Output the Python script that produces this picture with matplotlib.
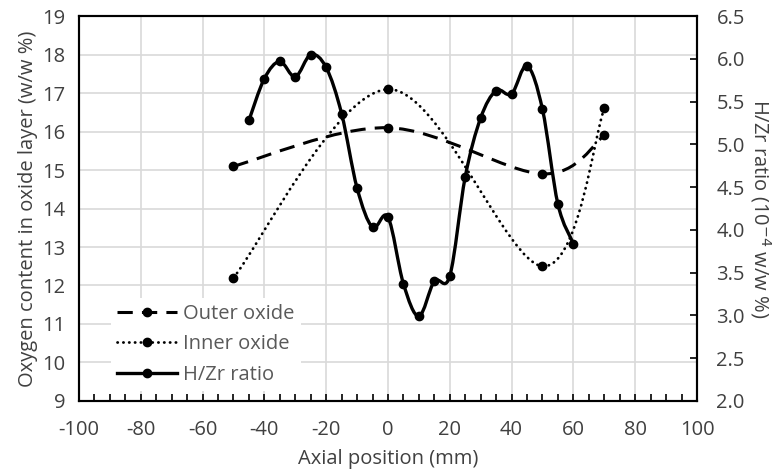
import numpy as np
import matplotlib.pyplot as plt
from matplotlib.path import Path
from matplotlib.patches import PathPatch
from matplotlib.ticker import MultipleLocator
from matplotlib.lines import Line2D

plt.rcParams["font.family"] = ["Open Sans", "DejaVu Sans"]
plt.rcParams["axes.unicode_minus"] = False

# --- data ---
oxide_pos = [-50, 0, 50, 70]
outer_oxide = [15.1, 16.1, 14.9, 15.9]
inner_oxide = [12.2, 17.1, 12.5, 16.6]

hzr_pos = [-45, -40, -35, -30, -25, -20, -15, -10, -5, 0, 5,
           10, 15, 20, 25, 30, 35, 40, 45, 50, 55, 60]
hzr_ratio = [5.28, 5.77, 5.97, 5.79, 6.05, 5.90, 5.36, 4.49, 4.03, 4.15, 3.37,
             2.99, 3.40, 3.46, 4.62, 5.31, 5.63, 5.59, 5.92, 5.41, 4.30, 3.84]

TXT = "#404040"
FS = 14.5


def smooth_path(x, y):
    # Excel-style smoothed line as cubic Bezier segments
    pts = np.column_stack([x, y]).astype(float)
    n = len(pts)
    verts = [pts[0]]
    codes = [Path.MOVETO]
    for i in range(n - 1):
        p0 = pts[i - 1] if i > 0 else pts[i]
        p1 = pts[i]
        p2 = pts[i + 1]
        p3 = pts[i + 2] if i + 2 < n else pts[i + 1]
        c1 = p1 + (p2 - p0) / 6.0
        c2 = p2 - (p3 - p1) / 6.0
        verts += [c1, c2, p2]
        codes += [Path.CURVE4] * 3
    return Path(verts, codes)


fig = plt.figure(figsize=(7.74, 4.75), dpi=100)
ax = fig.add_axes([0.102, 0.156, 0.7985, 0.81])
ax2 = ax.twinx()

ax.add_patch(PathPatch(smooth_path(oxide_pos, outer_oxide), fill=False, ec="black",
                       lw=2.2, ls=(0, (5, 3)), capstyle="butt"))
ax.plot(oxide_pos, outer_oxide, ls="none", marker="o", ms=6, color="black")

ax.add_patch(PathPatch(smooth_path(oxide_pos, inner_oxide), fill=False, ec="black",
                       lw=2.0, ls=(0, (0.1, 2)), capstyle="round"))
ax.plot(oxide_pos, inner_oxide, ls="none", marker="o", ms=6, color="black")

ax2.add_patch(PathPatch(smooth_path(hzr_pos, hzr_ratio), fill=False, ec="black",
                        lw=2.4, capstyle="round", joinstyle="round"))
ax2.plot(hzr_pos, hzr_ratio, ls="none", marker="o", ms=6, color="black")

ax.set_xlim(-100, 100)
ax.set_ylim(9, 19)
ax2.set_ylim(2.0, 6.5)
ax.xaxis.set_major_locator(MultipleLocator(20))
ax.xaxis.set_minor_locator(MultipleLocator(5))
ax.yaxis.set_major_locator(MultipleLocator(1))
ax2.yaxis.set_major_locator(MultipleLocator(0.5))
ax2.yaxis.set_major_formatter(plt.FormatStrFormatter("%.1f"))

ax.grid(True, which="major", color="#d9d9d9", lw=1.2)
ax.set_axisbelow(True)
for a in (ax, ax2):
    for s in a.spines.values():
        s.set_linewidth(1.5)
        s.set_color("black")

ax.tick_params(axis="x", which="both", direction="in", length=5, width=1.2,
               labelsize=FS, labelcolor=TXT, pad=14)
ax.tick_params(axis="y", length=0, labelsize=FS, labelcolor=TXT, pad=10)
ax2.tick_params(axis="y", direction="in", length=5, width=1.2,
                labelsize=FS, labelcolor=TXT, pad=14)

ax.set_xlabel("Axial position (mm)", fontsize=FS, color=TXT, labelpad=6)
ax.set_ylabel("Oxygen content in oxide layer (w/w %)", fontsize=FS, color=TXT, labelpad=3)
ax2.set_ylabel("H/Zr ratio (10$^{-4}$ w/w %)", fontsize=FS, color=TXT,
               rotation=-90, labelpad=20)

handles = [
    Line2D([], [], color="black", lw=2.2, ls=(0, (5, 3)), marker="o", ms=6),
    Line2D([], [], color="black", lw=2.0, ls=(0, (0.1, 2)), dash_capstyle="round",
           marker="o", ms=6),
    Line2D([], [], color="black", lw=2.4, marker="o", ms=6),
]
leg = ax2.legend(handles, ["Outer oxide", "Inner oxide", "H/Zr ratio"],
                 loc="lower left", bbox_to_anchor=(0.035, 0.0), frameon=True,
                 facecolor="white", edgecolor="none", framealpha=1,
                 fontsize=FS, handlelength=3.0, handletextpad=0.3,
                 labelspacing=0.52, borderpad=0.3)
for t in leg.get_texts():
    t.set_color("#595959")

fig.savefig("out.png", dpi=100)
